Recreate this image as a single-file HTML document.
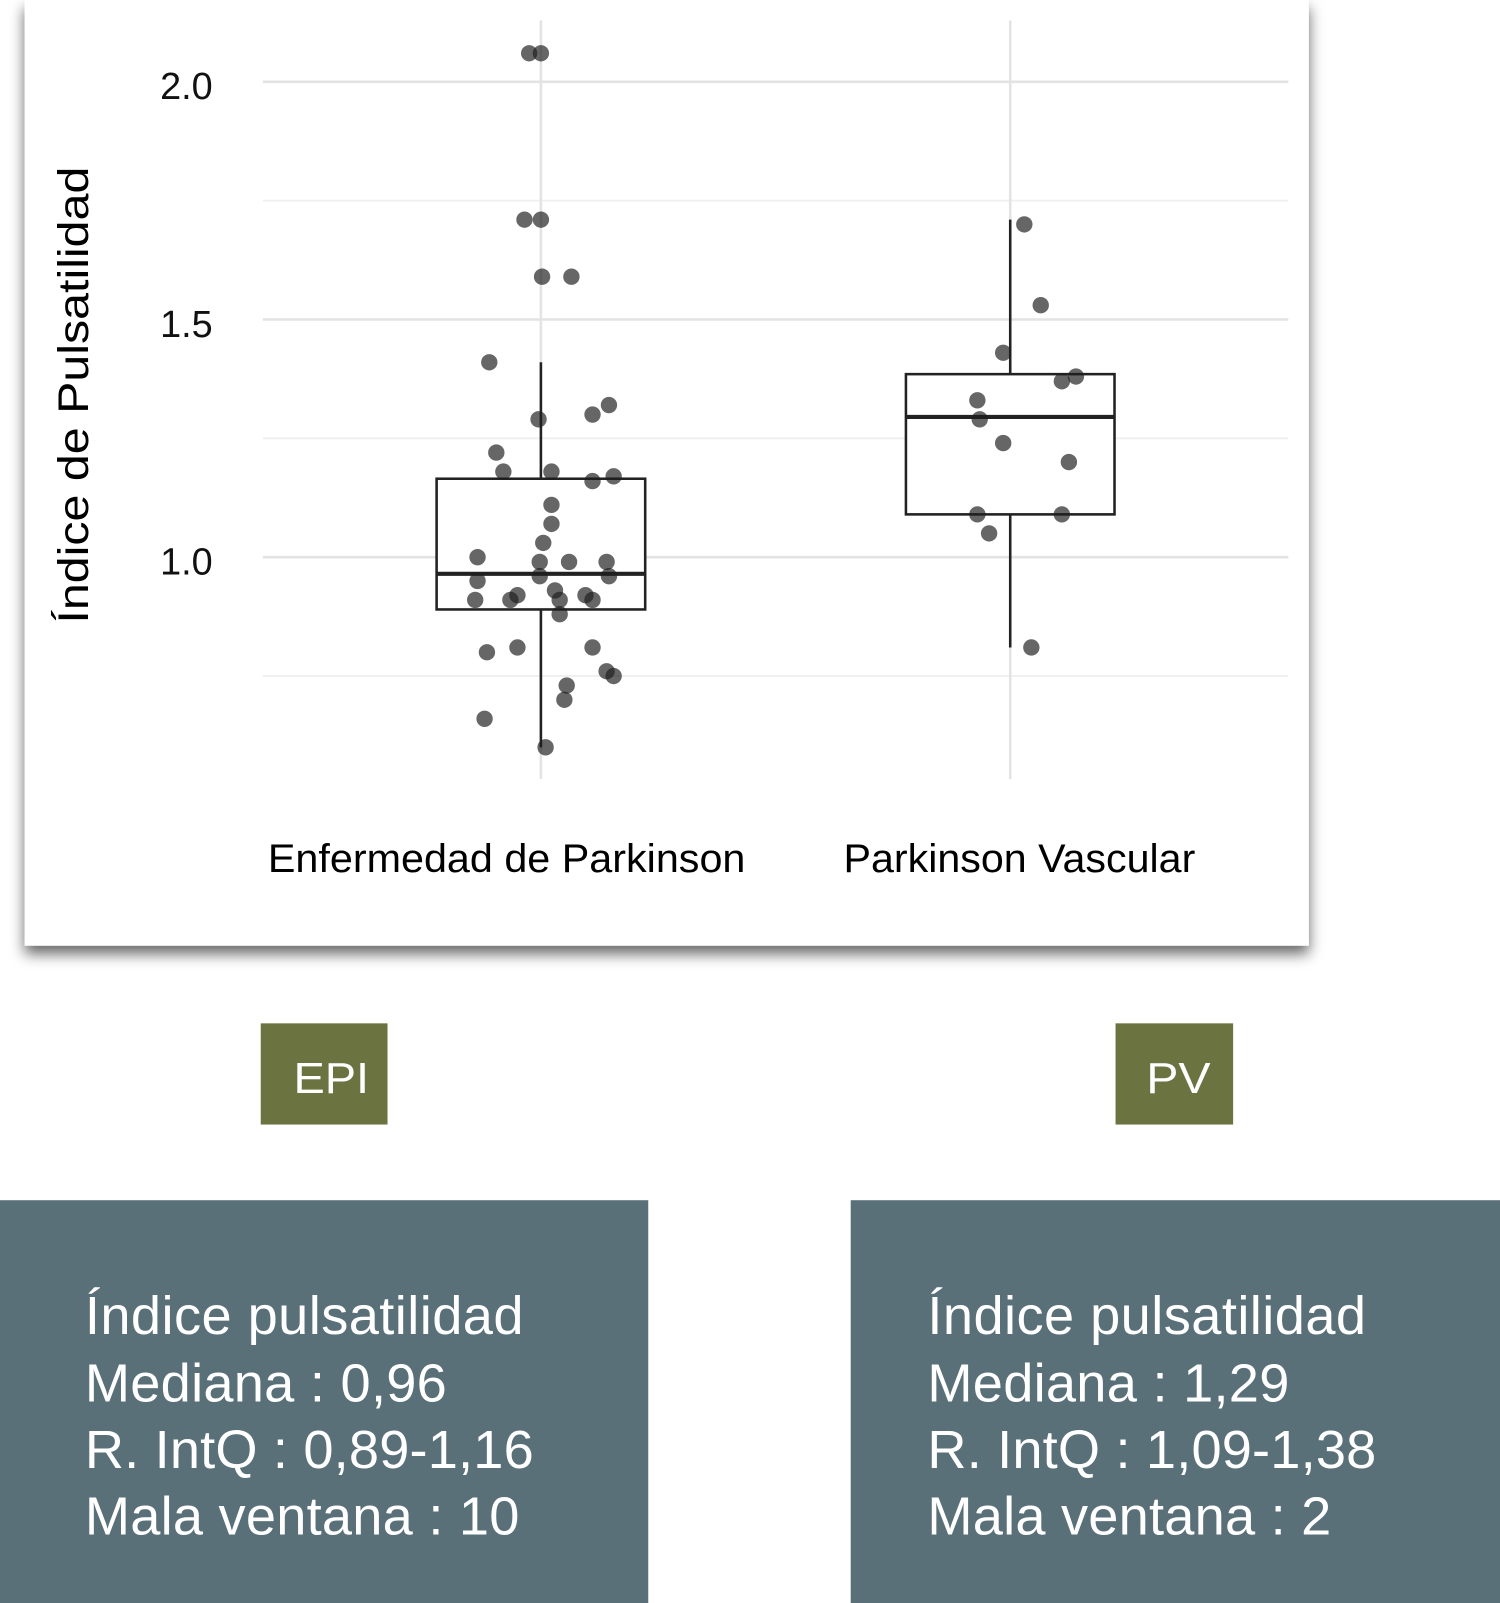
<!DOCTYPE html>
<html><head><meta charset="utf-8"><style>
html,body{margin:0;padding:0;background:#fff;}
svg{display:block;font-family:"Liberation Sans",sans-serif;}
</style></head><body>
<svg width="1500" height="1603" viewBox="0 0 1467 1568" preserveAspectRatio="none">
<defs><filter id="sh" x="-5%" y="-5%" width="110%" height="115%"><feDropShadow dx="0" dy="8" stdDeviation="7" flood-color="#000" flood-opacity="0.6"/></filter></defs>
<rect x="24" y="0" width="1256" height="925" fill="#fff" filter="url(#sh)"/>
<g id="plot"></g>
<text transform="translate(86,610) rotate(-90)" font-size="42" fill="#000" textLength="447" lengthAdjust="spacingAndGlyphs">Índice de Pulsatilidad</text>
<rect x="255" y="1001" width="124" height="99" fill="#6b7440"/>
<text x="287" y="1069" font-size="43" fill="#fff" textLength="74" lengthAdjust="spacingAndGlyphs">EPI</text>
<rect x="1091" y="1001" width="115" height="99" fill="#6b7440"/>
<text x="1121" y="1069" font-size="43" fill="#fff" textLength="63" lengthAdjust="spacingAndGlyphs">PV</text>
<rect x="0" y="1174" width="634" height="394" fill="#5a7078"/>
<rect x="832" y="1174" width="635" height="394" fill="#5a7078"/>
<g font-size="53" fill="#fff" lengthAdjust="spacingAndGlyphs">
<text x="83" y="1305" textLength="429">Índice pulsatilidad</text><text x="83" y="1371" textLength="354">Mediana : 0,96</text><text x="83" y="1436" textLength="439">R. IntQ : 0,89-1,16</text><text x="83" y="1501" textLength="425">Mala ventana : 10</text></g>
<g font-size="53" fill="#fff" lengthAdjust="spacingAndGlyphs">
<text x="907" y="1305" textLength="429">Índice pulsatilidad</text><text x="907" y="1371" textLength="354">Mediana : 1,29</text><text x="907" y="1436" textLength="439">R. IntQ : 1,09-1,38</text><text x="907" y="1501" textLength="395">Mala ventana : 2</text></g>
</svg>
<script>
const categories=["Enfermedad de Parkinson","Parkinson Vascular"];
const catWidths=[467,344];
const yTicks=[1.0,1.5,2.0];
const yMinor=[0.75,1.25,1.75];
const epValues=[2.06,2.06,1.71,1.71,1.59,1.59,1.41,1.29,1.30,1.32,1.22,1.18,1.18,1.16,1.17,1.11,1.07,1.03,1.00,0.95,0.99,0.96,0.99,0.99,0.96,0.91,0.91,0.92,0.93,0.91,0.92,0.91,0.88,0.80,0.81,0.81,0.76,0.75,0.73,0.70,0.66,0.60];
const epJitter=[-0.05,0,-0.07,0,0.005,0.13,-0.22,-0.01,0.22,0.29,-0.19,-0.16,0.045,0.22,0.31,0.045,0.045,0.01,-0.27,-0.27,-0.005,-0.005,0.12,0.28,0.29,-0.28,-0.13,-0.1,0.06,0.08,0.19,0.22,0.08,-0.23,-0.1,0.22,0.28,0.31,0.11,0.1,-0.24,0.02];
const pvValues=[1.70,1.53,1.43,1.33,1.29,1.37,1.38,1.24,1.20,1.09,1.09,1.05,0.81];
const pvJitter=[0.06,0.13,-0.03,-0.14,-0.13,0.22,0.28,-0.03,0.25,-0.14,0.22,-0.09,0.09];
const epBox={lo:0.60,q1:0.89,med:0.965,q3:1.165,hi:1.41};
const pvBox={lo:0.81,q1:1.09,med:1.295,q3:1.385,hi:1.71};
const NS="http://www.w3.org/2000/svg";
const g=document.getElementById('plot');
const y=v=>545-(v-1.0)*465;
const xc=i=>[529,988][i];
const bw=459;
function mk(t,a){const e=document.createElementNS(NS,t);for(const k in a)e.setAttribute(k,a[k]);g.appendChild(e);return e;}
yMinor.forEach(v=>{const l=mk('line',{x1:257,x2:1260,y1:y(v),y2:y(v),stroke:'#f0f0f0','stroke-width':2});

});
yTicks.forEach(v=>{const l=mk('line',{x1:257,x2:1260,y1:y(v),y2:y(v),stroke:'#e3e3e3','stroke-width':2.5});


const t=mk('text',{x:208,y:y(v)+17,'text-anchor':'end','font-size':37,fill:'#111'});t.textContent=v.toFixed(1);

});
categories.forEach((c,i)=>{const l=mk('line',{x1:xc(i),x2:xc(i),y1:20,y2:762,stroke:'#e3e3e3','stroke-width':2.5});


const t=mk('text',{x:[262,825][i],y:853,'font-size':39,fill:'#000',textLength:catWidths[i],lengthAdjust:'spacingAndGlyphs'});t.textContent=c;

});
[epBox,pvBox].forEach((b,i)=>{const cx=xc(i),h=102;
const w=mk('line',{x1:cx,x2:cx,y1:y(b.hi),y2:y(b.lo),stroke:'#222','stroke-width':2.5});


const r=mk('rect',{x:cx-h,y:y(b.q3),width:2*h,height:y(b.q1)-y(b.q3),fill:'#fff',stroke:'#222','stroke-width':2.5});


const m=mk('line',{x1:cx-h,x2:cx+h,y1:y(b.med),y2:y(b.med),stroke:'#222','stroke-width':4});

});
[[epValues,epJitter],[pvValues,pvJitter]].forEach(([vals,jit],i)=>{vals.forEach((v,k)=>{
const c=mk('circle',{cx:xc(i)+jit[k]*bw/2,cy:y(v),r:8,fill:'rgba(30,30,30,0.68)'});

});});
</script>
</body></html>
